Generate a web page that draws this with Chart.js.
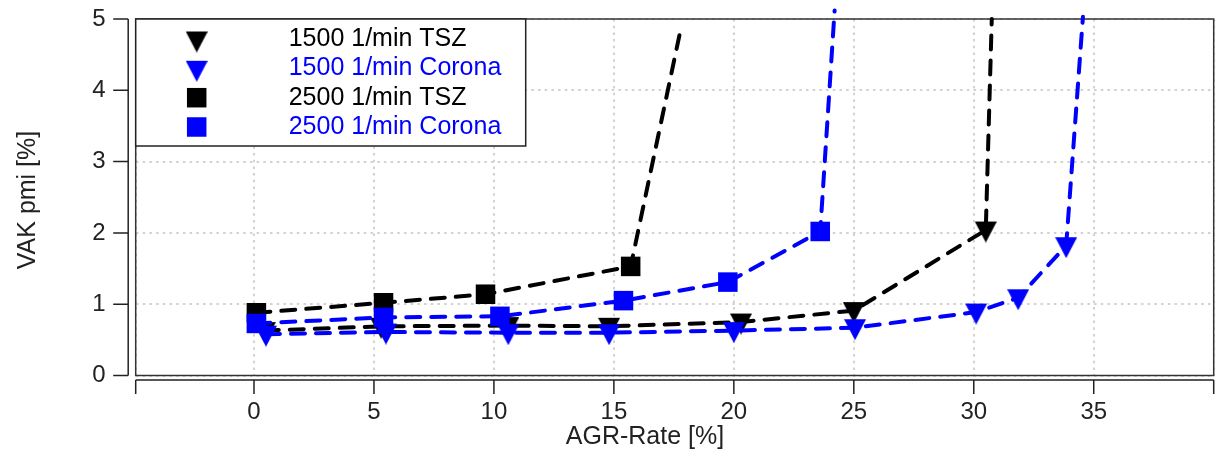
<!DOCTYPE html>
<html>
<head>
<meta charset="utf-8">
<title>VAK pmi über AGR-Rate</title>
<script src="https://cdn.jsdelivr.net/npm/chart.js@4/dist/chart.umd.min.js"></script>
<style>
  html, body { margin: 0; padding: 0; background: #fff; }
  canvas { display: block; }
</style>
</head>
<body>
<canvas id="vak" width="1217" height="455"></canvas>
<script>
const FONT = '"Liberation Sans", Arial, Helvetica, sans-serif';

const X_TICKS = [0, 5, 10, 15, 20, 25, 30, 35];
const Y_TICKS = [0, 1, 2, 3, 4, 5];
const X_MIN = -4.93, X_MAX = 40;

const LABELS = ['1500 1/min TSZ', '1500 1/min Corona', '2500 1/min TSZ', '2500 1/min Corona'];

// AGR-Rate [%] / VAK pmi [%]
const tsz1500X = [0.45, 5.3, 10.6, 14.8, 20.3, 25.0, 30.5, 30.75];
const tsz1500Y = [0.63, 0.69, 0.70, 0.69, 0.75, 0.91, 2.04, 5.0];
const corona1500X = [0.5, 5.5, 10.6, 14.8, 20.0, 25.05, 30.1, 31.85, 33.85, 34.55];
const corona1500Y = [0.58, 0.61, 0.60, 0.60, 0.63, 0.67, 0.89, 1.09, 1.82, 5.03];
const tsz2500X = [0.1, 5.4, 9.65, 15.7, 17.8];
const tsz2500Y = [0.88, 1.02, 1.14, 1.53, 4.88];
const corona2500X = [0.1, 5.4, 10.25, 15.4, 19.75, 23.6, 24.2];
const corona2500Y = [0.73, 0.815, 0.83, 1.05, 1.31, 2.02, 5.12];

const BLACK = '#000000';
const BLUE = '#0000ff';
const RIGHT_EDGE = 1213.7;

// downward triangle marker, anchored a bit above its box centre
function downTriangle(color) {
  const c = document.createElement('canvas');
  c.width = 22; c.height = 25;
  const g = c.getContext('2d');
  g.fillStyle = color;
  g.beginPath();
  g.moveTo(0, 4); g.lineTo(22, 4); g.lineTo(11, 25);
  g.closePath();
  g.fill();
  return c;
}

function series(label, xs, ys, color, marker, order) {
  const last = xs.length - 1;
  return {
    label,
    data: xs.map((x, i) => ({ x, y: ys[i] })),
    borderColor: color,
    backgroundColor: color,
    borderWidth: 4,
    borderDash: [14, 11],
    borderCapStyle: 'round',
    borderJoinStyle: 'round',
    pointStyle: marker === 'tri' ? downTriangle(color) : 'rect',
    // the curve runs off to its last value without a marker
    pointRadius: ctx => (ctx.dataIndex === last ? 0 : 13.8),
    pointBorderWidth: 0,
    tension: 0,
    clip: false,
    order
  };
}

const datasets = [
  series(LABELS[0], tsz1500X, tsz1500Y, BLACK, 'tri', 3),
  series(LABELS[1], corona1500X, corona1500Y, BLUE, 'tri', 2),
  series(LABELS[2], tsz2500X, tsz2500Y, BLACK, 'sq', 1),
  series(LABELS[3], corona2500X, corona2500Y, BLUE, 'sq', 0)
];

// keep the plot area exactly where the scales say, no label overhang
function fixSize(prop, size) {
  return s => {
    s[prop] = size;
    s.paddingTop = 0; s.paddingBottom = 0;
    s.paddingLeft = 0; s.paddingRight = 0;
  };
}

// plot frame, detached axes, titles and the boxed legend
const frame = {
  id: 'frame',
  afterLayout(chart) {
    // stretch the plot to the right edge, the x labels leave a gap there
    const a = chart.chartArea, x = chart.scales.x;
    a.right = RIGHT_EDGE;
    a.width = a.right - a.left;
    x.right = RIGHT_EDGE;
    x.width = x.right - x.left;
    x.configure();
  },
  beforeDatasetsDraw(chart) {
    const { ctx, chartArea: a } = chart;
    ctx.save();
    ctx.strokeStyle = '#333';
    ctx.lineWidth = 1.5;
    ctx.strokeRect(a.left, a.top, a.right - a.left, a.bottom - a.top);
    ctx.restore();
  },
  afterDraw(chart) {
    const { ctx, chartArea: a, scales: { x, y } } = chart;
    ctx.save();
    ctx.strokeStyle = '#222';
    ctx.lineWidth = 1.5;
    ctx.beginPath();
    const ax = a.left - 7.5;
    ctx.moveTo(ax, y.getPixelForValue(0));
    ctx.lineTo(ax, y.getPixelForValue(5));
    Y_TICKS.forEach(v => {
      const p = y.getPixelForValue(v);
      ctx.moveTo(ax - 15, p);
      ctx.lineTo(ax, p);
    });
    const ay = a.bottom + 4.5;
    ctx.moveTo(x.getPixelForValue(X_MIN), ay);
    ctx.lineTo(x.getPixelForValue(X_MAX), ay);
    [X_MIN, ...X_TICKS, X_MAX].forEach(v => {
      const p = x.getPixelForValue(v);
      ctx.moveTo(p, ay);
      ctx.lineTo(p, ay + 14);
    });
    ctx.stroke();

    // axis titles
    ctx.fillStyle = '#222';
    ctx.font = '25px ' + FONT;
    ctx.textAlign = 'center';
    ctx.textBaseline = 'middle';
    ctx.fillText('AGR-Rate [%]', 645, 437);
    ctx.save();
    ctx.translate(28, 200);
    ctx.rotate(-Math.PI / 2);
    ctx.fillText('VAK pmi [%]', 0, 0);
    ctx.restore();

    // legend
    const lx = a.left, ly = a.top, lw = 390, lh = 127;
    ctx.fillStyle = '#fff';
    ctx.fillRect(lx, ly, lw, lh);
    ctx.strokeStyle = '#222';
    ctx.strokeRect(lx, ly, lw, lh);
    const rows = [20, 49.3, 78.7, 108];
    const mx = lx + 61;
    ctx.textAlign = 'left';
    chart.data.datasets.forEach((ds, i) => {
      const ry = ly + rows[i];
      const st = ds.pointStyle;
      if (typeof st === 'object') {
        ctx.drawImage(st, mx - st.width / 2, ry + 1 - st.height / 2);
      } else {
        ctx.fillStyle = ds.borderColor;
        ctx.fillRect(mx - 9.75, ry - 9.75, 19.5, 19.5);
      }
      ctx.fillStyle = ds.borderColor;
      ctx.fillText(ds.label, lx + 153, ry);
    });
    ctx.restore();
  }
};

new Chart(document.getElementById('vak'), {
  type: 'line',
  data: { datasets },
  options: {
    responsive: false,
    animation: false,
    events: [],
    layout: { padding: { top: 19, right: 3.3, left: 0, bottom: 0 } },
    plugins: {
      legend: { display: false },
      tooltip: { enabled: false }
    },
    scales: {
      x: {
        type: 'linear',
        min: X_MIN,
        max: X_MAX,
        afterFit: fixSize('height', 79.5),
        afterBuildTicks: s => { s.ticks = [X_MIN, ...X_TICKS, X_MAX].map(v => ({ value: v })); },
        grid: { color: '#d2d2d2', lineWidth: 2, drawTicks: false },
        border: { display: false, dash: [2.5, 4.2] },
        ticks: {
          padding: 22,
          color: '#222',
          font: { family: FONT, size: 24 },
          maxRotation: 0,
          autoSkip: false,
          callback: v => (X_TICKS.includes(v) ? String(v) : '')
        }
      },
      y: {
        type: 'linear',
        min: 0,
        max: 5,
        afterFit: fixSize('width', 135.7),
        grid: { color: '#d2d2d2', lineWidth: 2, drawTicks: false },
        border: { display: false, dash: [2.5, 4.2] },
        ticks: {
          stepSize: 1,
          padding: 30,
          color: '#222',
          font: { family: FONT, size: 24 }
        }
      }
    }
  },
  plugins: [frame]
});
</script>
</body>
</html>
